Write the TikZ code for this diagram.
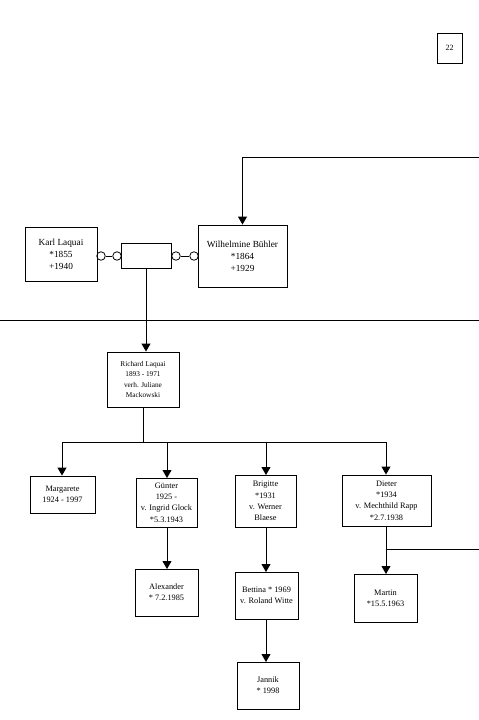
\documentclass[tikz,border=0pt]{standalone}
\usepackage{fontspec}
\setmainfont{Liberation Serif}
\usetikzlibrary{arrows.meta}
\tikzset{
  box/.style={draw, line width=0.9pt, inner sep=0pt, align=center, font=\fontsize{8.3}{11.3}\selectfont},
  bigbox/.style={box, font=\fontsize{9.3}{12}\selectfont},
  smallbox/.style={box, font=\fontsize{7.3}{10.3}\selectfont},
  ring/.style={draw, line width=0.8pt, circle, minimum size=8.5pt, inner sep=0pt},
  link/.style={line width=0.9pt},
  arr/.style={line width=0.9pt, -{Triangle[length=8pt,width=9pt]}}
}
\begin{document}
\begin{tikzpicture}[x=1pt,y=-1pt]
\useasboundingbox (0,0) rectangle (479,720);
% page number
\node[box, font=\fontsize{8}{10}\selectfont, minimum width=25pt, minimum height=30pt] (n22) at (449.5,48) {22};
% parents
\node[bigbox, minimum width=72pt, minimum height=54pt] (karl) at (61,254) {Karl Laquai\\*1855\\+1940};
\node[box, minimum width=50pt, minimum height=25pt] (mid) at (146,255.5) {};
\node[bigbox, minimum width=89pt, minimum height=62pt] (wil) at (242.5,256) {Wilhelmine Bühler\\*1864\\+1929};
\node[ring] (c1) at (101,256) {};
\node[ring] (c2) at (117,256) {};
\node[ring] (c3) at (176,256) {};
\node[ring] (c4) at (194,256) {};
\draw[link] (c1) -- (c2);
\draw[link] (c3) -- (c4);
% incoming line from top right
\coordinate (topin) at (479,157);
\draw[arr] (topin) -- (wil.north |- topin) -- (wil.north);
% separator
\coordinate (sepL) at (0,320);
\coordinate (sepR) at (479,320);
\draw[link] (sepL) -- (sepR);
% Richard
\node[smallbox, minimum width=72pt, minimum height=55pt] (rich) at (143,379.5) {Richard Laquai\\1893 - 1971\\verh. Juliane\\Mackowski};
\draw[arr] (mid.south) -- (mid.south |- rich.north);
% children
\node[box, minimum width=65pt, minimum height=37pt] (marg) at (62.5,494.5) {Margarete\\1924 - 1997};
\node[box, minimum width=61pt, minimum height=49pt] (gun) at (166.5,502.5) {Günter\\1925 -\\v. Ingrid Glock\\*5.3.1943};
\node[box, minimum width=61pt, minimum height=52pt] (bri) at (265.5,501) {Brigitte\\*1931\\v. Werner\\Blaese};
\node[box, minimum width=89pt, minimum height=51pt] (die) at (386.5,500.5) {Dieter\\*1934\\v. Mechthild Rapp\\*2.7.1938};
\coordinate (bus) at (143,442);
\coordinate (busL) at (62,442);
\coordinate (busR) at (386,442);
\draw[link] (rich.south) -- (bus);
\draw[link] (busL) -- (busR);
\draw[arr] (busL) -- (busL |- marg.north);
\draw[arr] (167,442) -- (167,478);
\draw[arr] (266,442) -- (266,475);
\draw[arr] (busR) -- (busR |- die.north);
% grandchildren
\node[box, minimum width=63pt, minimum height=47pt] (ale) at (166.5,592.5) {Alexander\\* 7.2.1985};
\node[box, minimum width=63pt, minimum height=47pt] (bet) at (266.5,595.5) {Bettina * 1969\\v. Roland Witte};
\node[box, minimum width=63pt, minimum height=48pt] (mar) at (385.5,598) {Martin\\*15.5.1963};
\draw[arr] (167,527) -- (167,569);
\draw[arr] (266,527) -- (266,572);
\draw[arr] (386,526) -- (386,574);
\coordinate (mj) at (386,549);
\coordinate (mr) at (479,549);
\draw[link] (mj) -- (mr);
% great-grandchild
\node[box, minimum width=62pt, minimum height=47pt] (jan) at (268,685.5) {Jannik\\* 1998};
\draw[arr] (266,619) -- (266,662);
\end{tikzpicture}
\end{document}
